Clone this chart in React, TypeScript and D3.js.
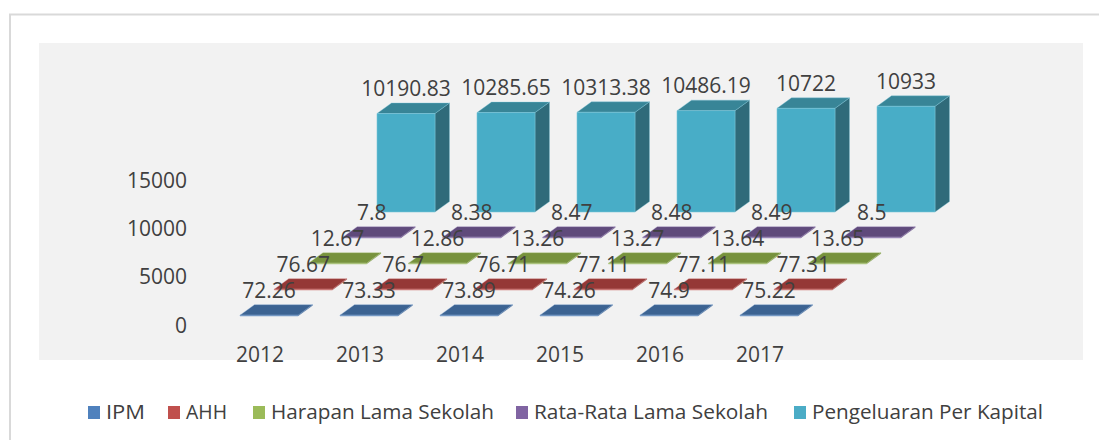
import React from "react";
import * as d3 from "d3";

const years = ["2012", "2013", "2014", "2015", "2016", "2017"];
const seriesNames = ["IPM", "AHH", "Harapan Lama Sekolah", "Rata-Rata Lama Sekolah", "Pengeluaran Per Kapital"];
const ipm = [72.26, 73.33, 73.89, 74.26, 74.9, 75.22];
const ahh = [76.67, 76.7, 76.71, 77.11, 77.11, 77.31];
const hls = [12.67, 12.86, 13.26, 13.27, 13.64, 13.65];
const rls = [7.8, 8.38, 8.47, 8.48, 8.49, 8.5];
const ppk = [10190.83, 10285.65, 10313.38, 10486.19, 10722, 10933];
const yTicks = [0, 5000, 10000, 15000];

const seriesValues = [ipm, ahh, hls, rls, ppk];
const legendColors = ["#4f81bd", "#c0504d", "#9bbb59", "#8064a2", "#4bacc6"];
const faceColors = [
  { front: "#4a78ad", top: "#3c6392", side: "#2f4f75", edge: "#7fa3cf" },
  { front: "#b24b48", top: "#953836", side: "#76302e", edge: "#d58583" },
  { front: "#8fae52", top: "#77923d", side: "#5e7530", edge: "#b5cd8a" },
  { front: "#76609a", top: "#5f4a7b", side: "#4b3b62", edge: "#a692c2" },
  { front: "#48adc7", top: "#388597", side: "#2f6b7a", edge: "#7cc6da" },
];

const legendX = [88, 168, 253, 516, 794];
const legendW = [39, 41, 223, 234, 231];

const FONT = "'Open Sans', 'Noto Sans', sans-serif";
const TXT = "#404040";

export default function App() {
  const barW = 58;
  const ddx = 14.5;
  const ddy = -10.5;
  const x = d3.scalePoint<string>().domain(years).range([240, 740]);
  const sx = d3.scaleLinear().domain([0, 4]).range([0, 137]);
  const sy = d3.scaleLinear().domain([0, 4]).range([316, 212]);
  const hScale = d3.scaleLinear().domain([0, 15000]).range([0, 145]);
  const yAxis = d3.scaleLinear().domain([0, 15000]).range([325, 180]);

  const bars: JSX.Element[] = [];
  const labels: JSX.Element[] = [];
  for (let s = seriesValues.length - 1; s >= 0; s--) {
    const c = faceColors[s];
    seriesValues[s].forEach((v, i) => {
      const x0 = (x(years[i]) as number) + sx(s);
      const yb = sy(s);
      const h = Math.max(hScale(v), 0.8);
      const yt = yb - h;
      const front = `M${x0},${yb}L${x0 + barW},${yb}L${x0 + barW},${yt}L${x0},${yt}Z`;
      const top = `M${x0},${yt}L${x0 + barW},${yt}L${x0 + barW + ddx},${yt + ddy}L${x0 + ddx},${yt + ddy}Z`;
      const side = `M${x0 + barW},${yb}L${x0 + barW + ddx},${yb + ddy}L${x0 + barW + ddx},${yt + ddy}L${x0 + barW},${yt}Z`;
      bars.push(
        <g key={`b${s}-${i}`}>
          <path d={side} fill={c.side} stroke={c.edge} strokeWidth={0.6} strokeOpacity={0.6} />
          <path d={top} fill={c.top} stroke={c.edge} strokeWidth={0.6} strokeOpacity={0.6} />
          <path d={front} fill={c.front} stroke={c.edge} strokeWidth={0.8} strokeOpacity={0.7} />
        </g>
      );
      labels.push(
        <text
          key={`l${s}-${i}`}
          x={x0 + barW / 2}
          y={yt + ddy - 7}
          textAnchor="middle"
          fontSize={21}
          fill={TXT}
          fontFamily={FONT}
        >
          {String(v)}
        </text>
      );
    });
  }

  return (
    <svg
      width={1099}
      height={440}
      style={{ position: "absolute", left: 0, top: 0, background: "#ffffff" }}
    >
      <rect x={0} y={0} width={1099} height={440} fill="#ffffff" />
      <path d="M10,440L10,14.5L1099,14.5" fill="none" stroke="#d9d9d9" strokeWidth={2} />
      <rect x={39} y={43} width={1044} height={317} fill="#f2f2f2" />
      {yTicks.map((t) => (
        <text
          key={`yt${t}`}
          x={187}
          y={yAxis(t) + 7.5}
          textAnchor="end"
          fontSize={21}
          fill={TXT}
          fontFamily={FONT}
        >
          {t}
        </text>
      ))}
      {bars}
      {labels}
      {years.map((yr) => (
        <text
          key={`yr${yr}`}
          x={(x(yr) as number) + 20}
          y={362}
          textAnchor="middle"
          fontSize={21}
          fill={TXT}
          fontFamily={FONT}
        >
          {yr}
        </text>
      ))}
      {seriesNames.map((n, i) => (
        <g key={`lg${i}`}>
          <rect x={legendX[i]} y={406} width={12} height={13} fill={legendColors[i]} />
          <text
            x={legendX[i] + 18}
            y={419}
            fontSize={20}
            fill={TXT}
            fontFamily={FONT}
            textLength={legendW[i]}
            lengthAdjust="spacingAndGlyphs"
          >
            {n}
          </text>
        </g>
      ))}
    </svg>
  );
}
